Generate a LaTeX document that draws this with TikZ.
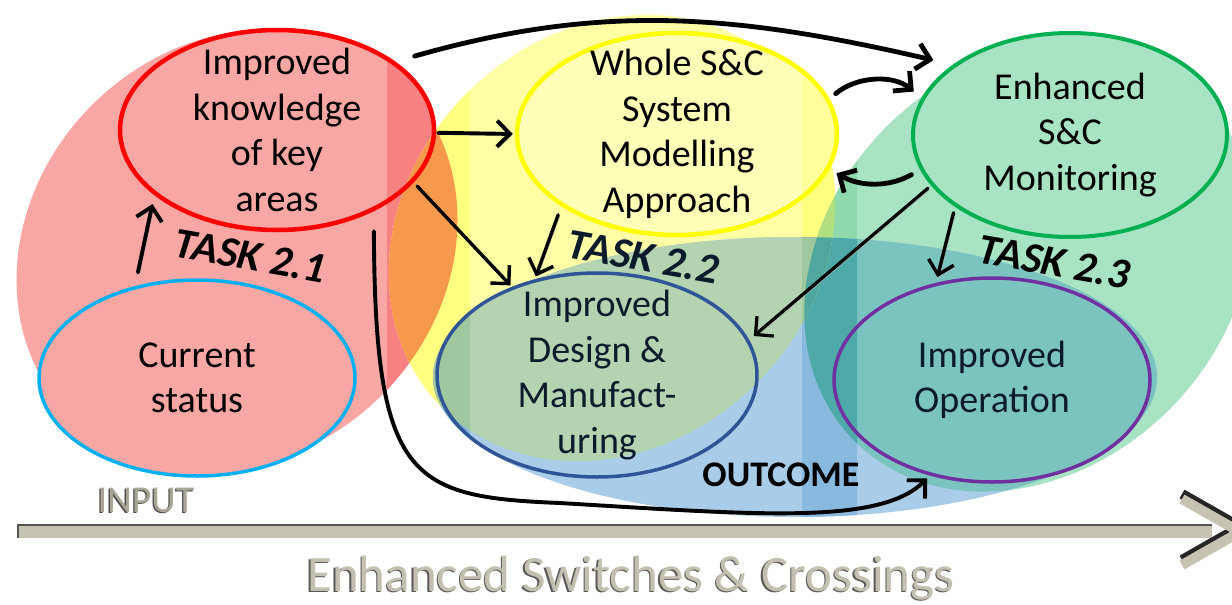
\documentclass[tikz,border=0pt]{standalone}
\usepackage{fontspec}
\setmainfont{Carlito}
\usetikzlibrary{shapes.geometric,arrows.meta}

% region colours (plain and inside the darker vertical strips)
\definecolor{baseR}{HTML}{F9A7A5}
\definecolor{baseY}{HTML}{FFFFA6}
\definecolor{baseG}{HTML}{A8E4C4}
\definecolor{baseB}{HTML}{A9CCE8}
\definecolor{baseRY}{HTML}{F79A4D}
\definecolor{baseYB}{HTML}{B3D3B1}
\definecolor{baseYG}{HTML}{C2EC98}
\definecolor{baseGB}{HTML}{7BC3BE}
\definecolor{baseYGB}{HTML}{6BB9AE}
\definecolor{baseW}{HTML}{FFFFB8}
\definecolor{bandR}{HTML}{F88282}
\definecolor{bandY}{HTML}{FFFF80}
\definecolor{bandG}{HTML}{8FD9AC}
\definecolor{bandB}{HTML}{8AB9DE}
\definecolor{bandRY}{HTML}{F7994C}
\definecolor{bandYB}{HTML}{A0C89E}
\definecolor{bandYG}{HTML}{B2E07E}
\definecolor{bandGB}{HTML}{4EAAA8}
\definecolor{bandYGB}{HTML}{4FA79F}
\definecolor{bandW}{HTML}{FFFF9C}
% outlines and text
\definecolor{knowRed}{HTML}{FF0000}
\definecolor{curCyan}{HTML}{00B0F0}
\definecolor{wholeYellow}{HTML}{FFFF00}
\definecolor{monGreen}{HTML}{00B050}
\definecolor{desBlue}{HTML}{2F5597}
\definecolor{opPurple}{HTML}{7030A0}
\definecolor{barBeige}{HTML}{C7C3B3}
\definecolor{barEdge}{HTML}{555555}
\definecolor{titleGray}{HTML}{C4C0B1}
\definecolor{inputGray}{HTML}{A9A697}
\definecolor{textNavy}{HTML}{0C1B2C}

% the four task areas
\def\Rblob{[rotate around={45:(237,250)}] (237,250) ellipse [x radius=235, y radius=205]}
\def\Yblob{[rotate around={45:(612,238)}] (612,238) ellipse [x radius=240, y radius=205]}
\def\Gblob{[rotate around={45:(1028,268)}] (1028,268) ellipse [x radius=245, y radius=200]}
\def\Bblob{(795,377) ellipse [x radius=362, y radius=140]}

\newcommand\paintareas[1]{%
  \fill[#1R]\Rblob;
  \fill[#1R] (277,130) ellipse [x radius=157, y radius=100];
  \fill[#1R] (197,378) ellipse [x radius=158, y radius=98];
  \fill[#1Y]\Yblob;
  \fill[#1G]\Gblob;
  \fill[#1G] (1070,135) ellipse [x radius=157, y radius=102];
  \fill[#1B]\Bblob;
  \begin{scope}\clip\Rblob; \fill[#1RY]\Yblob; \end{scope}
  \begin{scope}\clip\Gblob; \fill[#1GB]\Bblob; \end{scope}
  \begin{scope}\clip\Yblob; \fill[#1YG]\Gblob; \fill[#1YB]\Bblob;
    \clip\Gblob; \fill[#1YGB]\Bblob; \end{scope}
  \fill[#1W] (677,134) ellipse [x radius=160, y radius=101];
}

% text with an offset shade behind it
\newcommand\embossed[3]{\rlap{\kern-1.3pt\raisebox{-1.3pt}{\textcolor{#1}{#3}}}\textcolor{#2}{#3}}

\begin{document}
\begin{tikzpicture}[x=1pt,y=-1pt,
  oval/.style={ellipse, inner xsep=0pt, inner ysep=-25pt, align=center,
    font=\fontsize{38}{45.5}\selectfont, text=black},
  tasklbl/.style={font=\fontsize{43}{50}\selectfont\bfseries\itshape, rotate=-10, inner sep=0pt},
  conn/.style={draw=black, line width=3.9pt, line cap=round,
    -{Straight Barb[length=13pt,width=26pt]},
    preaction={draw=black!30, transform canvas={shift={(1.6,1.6)}}}},
  thick conn/.style={conn, line width=4.8pt}]
\useasboundingbox (0,0) rectangle (1232,605);
\fill[white] (0,0) rectangle (1232,605);

% coloured task areas, then the darker vertical strips
\paintareas{base}
\begin{scope}
  \clip (387,0) rectangle (470,605) (802,0) rectangle (857,605);
  \paintareas{band}
\end{scope}

% timeline bar
\fill[barBeige] (18,525) rectangle (1212,538);
\draw[barEdge, line width=1.4pt] (18,538) -- (18,525) -- (1212,525);
\draw[black!85, line width=10pt, line join=miter] (1182,494) -- (1240,527) -- (1182,560);
\draw[barBeige, line width=10pt, line join=miter] (1182,499) -- (1240,532) -- (1182,565);

% outcome ellipses
\node[oval, draw=knowRed, line width=4.5pt, minimum width=314pt, minimum height=200pt]
  (know) at (277,130) {Improved\\knowledge\\of key\\areas};
\node[oval, draw=curCyan, line width=3.5pt, minimum width=316pt, minimum height=196pt]
  (cur) at (197,378) {Current\\status};
\node[oval, draw=wholeYellow, line width=4.5pt, minimum width=320pt, minimum height=202pt]
  (whole) at (677,134) {Whole S\&C\\System\\Modelling\\Approach};
\node[oval, draw=monGreen, line width=4pt, minimum width=314pt, minimum height=204pt]
  (mon) at (1070,135) {Enhanced\\S\&C\\Monitoring};
\node[oval, draw=desBlue, line width=3.5pt, minimum width=320pt, minimum height=204pt, text=textNavy]
  (des) at (597,375) {Improved\\Design \&\\Manufact-\\uring};
\node[oval, draw=opPurple, line width=3.5pt, minimum width=316pt, minimum height=204pt, text=textNavy]
  (op) at (992,380) {Improved\\Operation};

% task labels
\node[tasklbl] (t1) at (250,256) {TASK 2.1};
\node[tasklbl, text=textNavy] (t2) at (643,257) {TASK 2.2};
\node[tasklbl] (t3) at (1054,262) {TASK 2.3};

% side labels
\node[font=\fontsize{36}{40}\selectfont\bfseries, inner sep=0pt, anchor=base] (outc) at (781,486)
  {OUTCOME};
\node[font=\fontsize{38}{40}\selectfont, inner sep=0pt, anchor=base] (inp) at (146,512)
  {\embossed{black!70}{inputGray}{INPUT}};
\node[font=\fontsize{51}{56}\selectfont, inner sep=0pt, anchor=base] (title) at (631,591)
  {\embossed{black!65}{titleGray}{Enhanced Switches \& Crossings}};

% flows between outcomes
\coordinate (lowpt) at (560,503);
\draw[conn, shorten <=14pt, shorten >=9pt] (cur.124) -- (know.208);
\draw[conn, shorten <=2pt, shorten >=2pt] (know.-1) -- (whole.180);
\draw[conn, line width=3.4pt, shorten <=5pt, shorten >=2pt] (know.-21) -- (des.134);
\draw[conn, line width=3.4pt, shorten <=9pt, shorten >=3pt] (whole.212) -- (des.123);
\draw[thick conn, shorten <=20pt, shorten >=20pt] (know.30) to[out=16, in=167] (mon.149);
\draw[thick conn, shorten <=8pt, shorten >=10pt] (whole.13) to[out=40, in=140] (mon.166);
\draw[thick conn, shorten <=10pt, shorten >=8pt] (mon.193) to[out=210, in=-30] (whole.-13);
\draw[conn, line width=3.2pt, shorten <=4pt, shorten >=6pt] (mon.200) -- (des.13);
\draw[conn, line width=3.4pt, shorten <=6pt, shorten >=6pt] (mon.212) -- (op.120);
\draw[conn, shorten <=20pt, shorten >=4pt] (know.-40) .. controls (375,480) and (410,497) ..
  (lowpt) .. controls (760,515) and (880,525) .. (op.237);
\end{tikzpicture}
\end{document}
